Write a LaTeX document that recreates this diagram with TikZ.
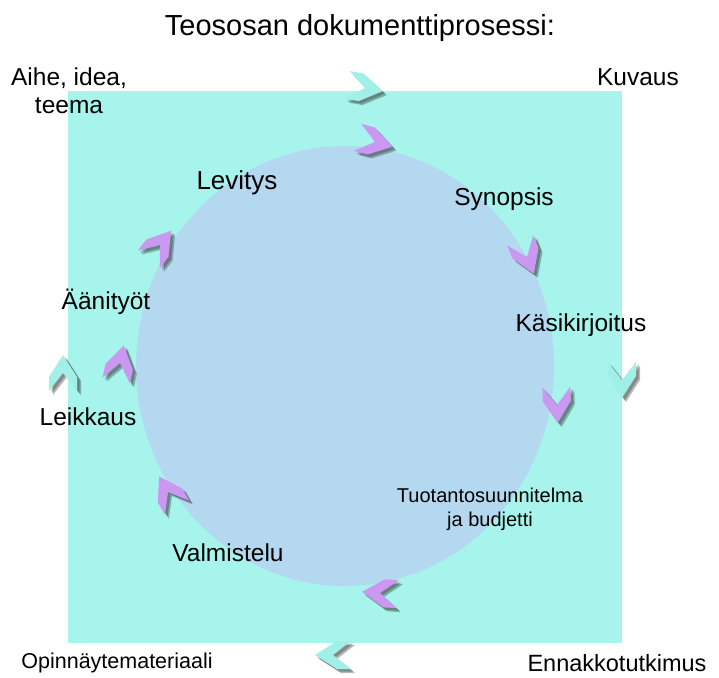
\documentclass[tikz,border=0pt]{standalone}
\usepackage{fontspec}
\setmainfont{Liberation Sans}
\usepackage{tikz}
\definecolor{aqua}{RGB}{166,244,236}
\definecolor{skyb}{RGB}{180,216,240}
\definecolor{lila}{RGB}{202,152,240}
\definecolor{turq}{RGB}{160,240,232}
\tikzset{
  x=1pt, y=-1pt,
  chev/.pic={\fill (-18,14) -- (-4,14) -- (18,0) -- (-4,-14) -- (-18,-14) -- (0,0) -- cycle;},
  lbl/.style={inner sep=0pt, align=center, font=\fontsize{24.5}{28}\selectfont},
  small/.style={lbl, font=\fontsize{20}{24}\selectfont}
}
\newcommand\arrowmark[4]{%
  \pic[rotate=#3, fill=black!80, opacity=.35] at ({#1+4},{#2+4}) {chev};
  \pic[rotate=#3, fill=black!80, opacity=.35] at ({#1+2.5},{#2+2.5}) {chev};
  \pic[rotate=#3, fill=#4] at (#1,#2) {chev};}

\begin{document}
\begin{tikzpicture}
    \useasboundingbox (0,0) rectangle (719,677);
    \fill[white] (0,0) rectangle (719,677);

    \fill[aqua] (68,91) rectangle (622,643);
    \fill[skyb] (345,366) ellipse [x radius=209, y radius=220];

    \node[lbl, font=\fontsize{29}{32}\selectfont] (title) at (360,28) {Teososan dokumenttiprosessi:};

    \node[lbl] (aihe) at (69,91) {Aihe, idea,\\teema};
    \node[lbl] (kuvaus) at (638,77) {Kuvaus};
    \node[lbl, font=\fontsize{26}{28}\selectfont] (levitys) at (237,183) {Levitys};
    \node[lbl] (synopsis) at (504,199) {Synopsis};
    \node[lbl] (kasikirjoitus) at (581,325) {Käsikirjoitus};
    \node[lbl] (aanityot) at (106,302) {Äänityöt};
    \node[lbl] (leikkaus) at (88,417) {Leikkaus};
    \node[small] (tuotanto) at (490,509) {Tuotantosuunnitelma\\ja budjetti};
    \node[lbl] (valmistelu) at (228,553) {Valmistelu};
    \node[small, font=\fontsize{21.5}{24}\selectfont] (opinnayte) at (117,663) {Opinnäytemateriaali};
    \node[lbl, font=\fontsize{23.5}{28}\selectfont] (ennakko) at (617,663) {Ennakkotutkimus};

    % inner cycle
    \arrowmark{375}{142}{-15}{lila}
    \arrowmark{527}{257}{-68}{lila}
    \arrowmark{557}{405}{-88}{lila}
    \arrowmark{380}{593}{176}{lila}
    \arrowmark{168}{492}{120}{lila}
    \arrowmark{120}{363}{78}{lila}
    \arrowmark{160}{245}{52}{lila}

    % outer cycle
    \arrowmark{365}{88}{-10}{turq}
    \arrowmark{622}{380}{-90}{turq}
    \arrowmark{333}{655}{180}{turq}
    \arrowmark{63}{373}{90}{turq}
\end{tikzpicture}
\end{document}
